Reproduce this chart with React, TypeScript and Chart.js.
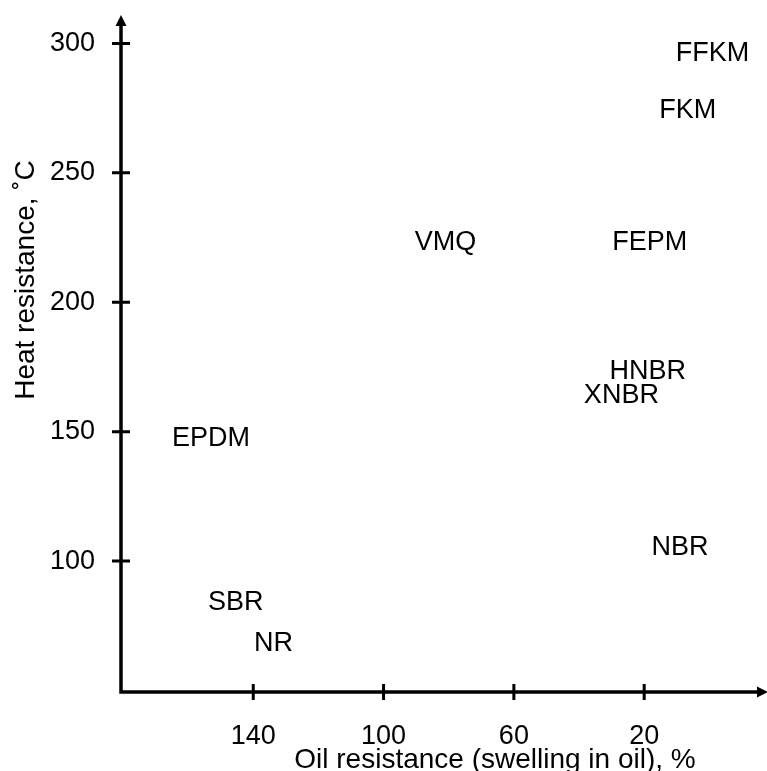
import React, { useEffect, useRef } from "react";
import { Chart, registerables } from "chart.js";

Chart.register(...registerables);

const materials = ["FFKM", "FKM", "VMQ", "FEPM", "HNBR", "XNBR", "EPDM", "NBR", "SBR", "NR"];
const oilSwelling = [-1, 6.6, 81, 18.3, 18.9, 27, 153, 9, 145.4, 133.8];
const heatResistance = [297, 275, 224, 224, 174, 165, 148.3, 106, 85, 68.8];
const xTicks = [140, 100, 60, 20];
const yTicks = [100, 150, 200, 250, 300];
const xTitle = "Oil resistance (swelling in oil), %";
const yTitle = "Heat resistance, ˚C";

const FONT = "'Liberation Sans', Arial, sans-serif";

const annotatePlugin = {
  id: "annotate",
  afterDraw(chart: any) {
    const ctx = chart.ctx;
    const { left, right, top, bottom } = chart.chartArea;
    const xs = chart.scales.x;
    const ys = chart.scales.y;
    ctx.save();
    ctx.strokeStyle = "#000";
    ctx.fillStyle = "#000";
    ctx.lineWidth = 3.5;
    ctx.lineCap = "butt";
    // axes
    ctx.beginPath();
    ctx.moveTo(left, bottom);
    ctx.lineTo(left, top + 8);
    ctx.moveTo(left - 1.75, bottom);
    ctx.lineTo(right - 8, bottom);
    ctx.stroke();
    // arrows
    ctx.beginPath();
    ctx.moveTo(left, top);
    ctx.lineTo(left - 5.5, top + 11);
    ctx.lineTo(left + 5.5, top + 11);
    ctx.closePath();
    ctx.fill();
    ctx.beginPath();
    ctx.moveTo(right + 1, bottom);
    ctx.lineTo(right - 10, bottom - 5.5);
    ctx.lineTo(right - 10, bottom + 5.5);
    ctx.closePath();
    ctx.fill();
    // tick marks
    ctx.lineWidth = 3;
    ctx.beginPath();
    yTicks.forEach((v) => {
      const y = ys.getPixelForValue(v);
      ctx.moveTo(left - 9, y);
      ctx.lineTo(left + 9, y);
    });
    xTicks.forEach((v) => {
      const x = xs.getPixelForValue(v);
      ctx.moveTo(x, bottom - 8);
      ctx.lineTo(x, bottom + 8);
    });
    ctx.stroke();
    // point labels
    const meta = chart.getDatasetMeta(0);
    const size = 27;
    ctx.font = `${size}px ${FONT}`;
    ctx.textAlign = "center";
    ctx.textBaseline = "alphabetic";
    meta.data.forEach((pt: any, i: number) => {
      ctx.fillText(materials[i], pt.x, pt.y + size * 0.716 / 2);
    });
    // axis titles
    ctx.font = `28px ${FONT}`;
    ctx.textAlign = "center";
    ctx.fillText(xTitle, left + 374, bottom + 76);
    ctx.save();
    ctx.translate(34, top + 265);
    ctx.rotate(-Math.PI / 2);
    ctx.fillText(yTitle, 0, 0);
    ctx.restore();
    ctx.restore();
  },
};

export default function App() {
  const ref = useRef<HTMLCanvasElement>(null);
  useEffect(() => {
    document.body.style.margin = "0";
    const canvas = ref.current!;
    const chart = new Chart(canvas, {
      type: "scatter",
      data: {
        datasets: [
          {
            data: oilSwelling.map((x, i) => ({ x, y: heatResistance[i] })),
            pointRadius: 0,
            pointHoverRadius: 0,
          },
        ],
      },
      options: {
        animation: false,
        responsive: false,
        maintainAspectRatio: false,
        layout: { padding: { top: 15, right: 0, left: 0, bottom: 0 } },
        plugins: { legend: { display: false }, tooltip: { enabled: false } },
        events: [],
        scales: {
          x: {
            type: "linear",
            reverse: true,
            min: -17.7,
            max: 180.6,
            afterFit: (s: any) => {
              s.height = 79;
              s.paddingLeft = 0;
              s.paddingRight = 0;
            },
            afterBuildTicks: (s: any) => {
              s.ticks = xTicks.map((v) => ({ value: v }));
            },
            grid: { display: false, drawTicks: false },
            border: { display: false },
            ticks: {
              autoSkip: false,
              maxRotation: 0,
              padding: 28,
              color: "#000",
              font: { size: 27, family: FONT },
            },
          },
          y: {
            type: "linear",
            min: 49.4,
            max: 311,
            afterFit: (s: any) => {
              s.width = 121;
              s.paddingTop = 0;
              s.paddingBottom = 0;
            },
            afterBuildTicks: (s: any) => {
              s.ticks = yTicks.map((v) => ({ value: v }));
            },
            grid: { display: false, drawTicks: false },
            border: { display: false },
            ticks: {
              autoSkip: false,
              padding: 26,
              color: "#000",
              font: { size: 27, family: FONT },
            },
          },
        },
      },
      plugins: [annotatePlugin],
    });
    return () => chart.destroy();
  }, []);
  return <canvas ref={ref} width={767} height={771} style={{ display: "block" }} />;
}
